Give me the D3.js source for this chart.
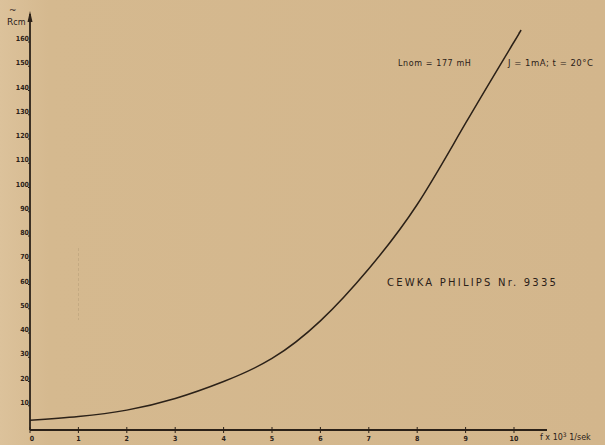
<!DOCTYPE html>
<html>
<head>
    <title>Cewka Philips Nr. 9335</title>
    <style>
        body { margin: 0; background: #d3b78d; }
        svg { display: block; }
        .tick-y { font: bold 7px "DejaVu Sans Condensed", sans-serif; fill: #2b2118; }
        .tick-x { font: bold 7px "DejaVu Sans Condensed", sans-serif; fill: #2b2118; }
        .note { font: 8px "DejaVu Sans", sans-serif; fill: #2b2118; }
    </style>
</head>
<body>
    <div id="chart"></div>

    <script src="https://cdnjs.cloudflare.com/ajax/libs/d3/7.8.5/d3.min.js"></script>
    <script>
        // Data
        const freq = [0, 1, 2, 3, 4, 5, 6, 7, 8, 9, 10, 10.1];
        const resistance = [4, 5.6, 8.2, 13, 20, 29.5, 45, 66.5, 93, 126.5, 160, 163.5];
        const xTicks = [0, 1, 2, 3, 4, 5, 6, 7, 8, 9, 10];
        const yTicks = [10, 20, 30, 40, 50, 60, 70, 80, 90, 100, 110, 120, 130, 140, 150, 160];

        const width = 605;
        const height = 445;
        const ink = "#2b2118";

        const svg = d3.select("#chart").append("svg")
            .attr("width", width)
            .attr("height", height);

        // Paper background
        const grad = svg.append("defs").append("linearGradient")
            .attr("id", "paper").attr("x1", 0).attr("x2", 1).attr("y1", 0).attr("y2", 0);
        grad.append("stop").attr("offset", "0%").attr("stop-color", "#dcc29b");
        grad.append("stop").attr("offset", "8%").attr("stop-color", "#d5b98f");
        grad.append("stop").attr("offset", "100%").attr("stop-color", "#d3b68c");
        svg.append("rect").attr("width", width).attr("height", height).attr("fill", "url(#paper)");

        const x = d3.scaleLinear().domain([0, 10]).range([30, 514]);
        const y = d3.scaleLinear().domain([0, 160]).range([430, 42]);

        // faint pencil mark on the paper
        svg.append("line")
            .attr("x1", x(1)).attr("x2", x(1))
            .attr("y1", 248).attr("y2", 320)
            .attr("stroke", "#8a7458").attr("stroke-width", 0.8)
            .attr("stroke-dasharray", "3,2").attr("opacity", 0.3);

        // Axes
        svg.append("line")
            .attr("x1", x(0)).attr("x2", 547)
            .attr("y1", y(0)).attr("y2", y(0))
            .attr("stroke", ink).attr("stroke-width", 1.8);
        svg.append("line")
            .attr("x1", x(0)).attr("x2", x(0))
            .attr("y1", y(0)).attr("y2", 14)
            .attr("stroke", ink).attr("stroke-width", 1.8);
        svg.append("path")
            .attr("d", `M${x(0) - 2.5},22 L${x(0)},11 L${x(0) + 2.5},22 Z`)
            .attr("fill", ink);

        // x ticks
        svg.selectAll(".xt").data(xTicks).enter().append("line")
            .attr("x1", d => x(d)).attr("x2", d => x(d))
            .attr("y1", y(0) - 3).attr("y2", y(0) + 3)
            .attr("stroke", ink).attr("stroke-width", 1);
        svg.selectAll(".tick-x").data(xTicks).enter().append("text")
            .attr("class", "tick-x")
            .attr("x", d => x(d) + (d === 0 ? 2 : 0))
            .attr("y", 441)
            .attr("text-anchor", "middle")
            .text(d => d);

        // y ticks
        svg.selectAll(".yt").data(yTicks).enter().append("line")
            .attr("x1", x(0) - 2).attr("x2", x(0))
            .attr("y1", d => y(d)).attr("y2", d => y(d))
            .attr("stroke", ink).attr("stroke-width", 1);
        svg.selectAll(".tick-y").data(yTicks).enter().append("text")
            .attr("class", "tick-y")
            .attr("x", x(0) - 1)
            .attr("y", d => y(d) - 1)
            .attr("text-anchor", "end")
            .text(d => d);

        // Axis titles
        svg.append("text").attr("class", "note")
            .attr("x", 9).attr("y", 13).style("font-size", "9px").text("~");
        svg.append("text").attr("class", "note")
            .attr("x", 7).attr("y", 25).style("font-size", "9px")
            .text("R").append("tspan").style("font-size", "8px").text("cm");
        svg.append("text").attr("class", "note")
            .attr("x", 540).attr("y", 440).style("font-size", "8px")
            .text("f x 10")
            .append("tspan").attr("dy", -3).style("font-size", "6px").text("3")
            .append("tspan").attr("dy", 3).style("font-size", "8px").text(" 1/sek");

        // Curve
        const line = d3.line()
            .x((d, i) => x(freq[i]))
            .y(d => y(d))
            .curve(d3.curveNatural);
        svg.append("path")
            .datum(resistance)
            .attr("d", line)
            .attr("fill", "none")
            .attr("stroke", ink)
            .attr("stroke-width", 1.5);

        // Annotations
        svg.append("text").attr("class", "note")
            .attr("x", 398).attr("y", 66).style("letter-spacing", "0.6px")
            .text("Lnom = 177 mH");
        svg.append("text").attr("class", "note")
            .attr("x", 508).attr("y", 66).style("font-size", "8.5px").style("letter-spacing", "0.5px")
            .text("J = 1mA;  t = 20°C");
        svg.append("text").attr("class", "note")
            .attr("x", 387).attr("y", 286)
            .style("font-size", "10px").style("letter-spacing", "2.2px")
            .text("CEWKA  PHILIPS  Nr. 9335");
    </script>
</body>
</html>
